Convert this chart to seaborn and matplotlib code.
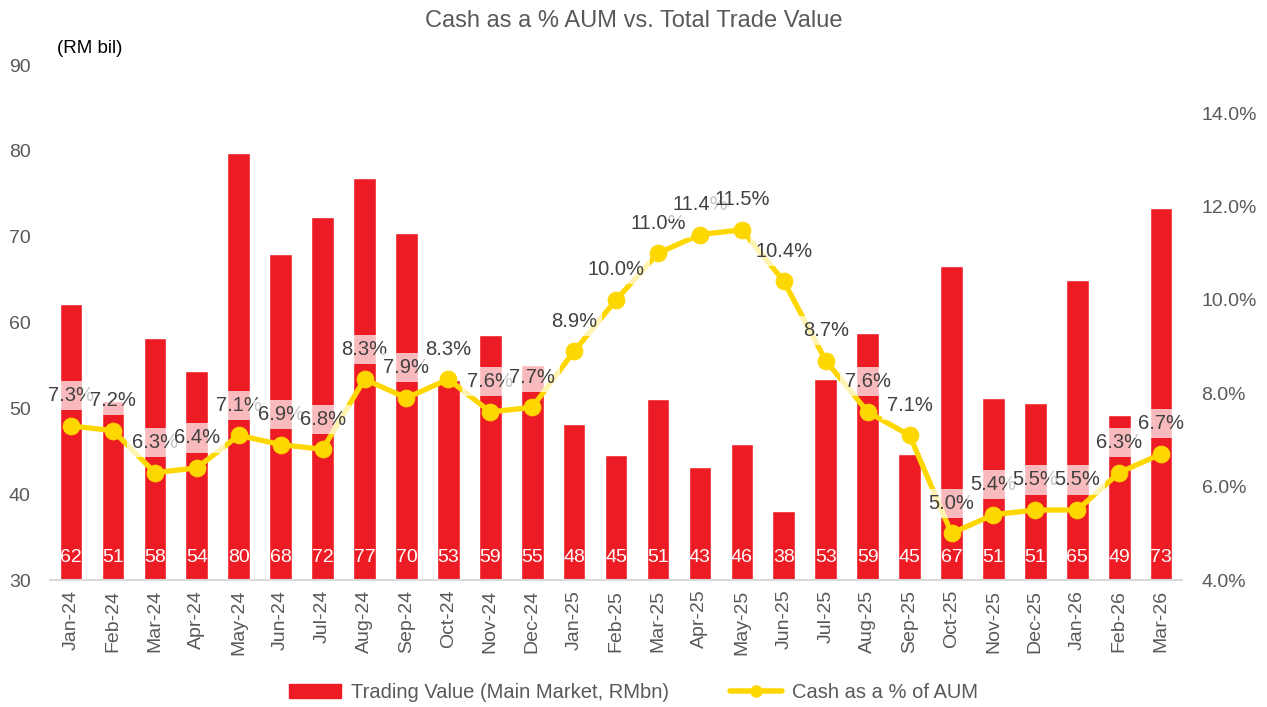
import numpy as np
import pandas as pd
import matplotlib
matplotlib.use("Agg")
import matplotlib.pyplot as plt
import seaborn as sns
from matplotlib.lines import Line2D
from matplotlib.patches import Patch

# Chart data
months = ["Jan-24", "Feb-24", "Mar-24", "Apr-24", "May-24", "Jun-24", "Jul-24", "Aug-24", "Sep-24",
          "Oct-24", "Nov-24", "Dec-24", "Jan-25", "Feb-25", "Mar-25", "Apr-25", "May-25", "Jun-25",
          "Jul-25", "Aug-25", "Sep-25", "Oct-25", "Nov-25", "Dec-25", "Jan-26", "Feb-26", "Mar-26"]
trade_value = [62.2, 50.8, 58.2, 54.3, 79.8, 68.0, 72.3, 76.8, 70.4, 53.3, 58.6, 55.0, 48.2, 44.6,
               51.1, 43.2, 45.9, 38.1, 53.4, 58.8, 44.7, 66.6, 51.2, 50.6, 64.9, 49.2, 73.3]
cash_pct = [7.3, 7.2, 6.3, 6.4, 7.1, 6.9, 6.8, 8.3, 7.9, 8.3, 7.6, 7.7, 8.9, 10.0, 11.0, 11.4, 11.5,
            10.4, 8.7, 7.6, 7.1, 5.0, 5.4, 5.5, 5.5, 6.3, 6.7]

df = pd.DataFrame({"month": months, "trade": trade_value, "cash": cash_pct})
df["pos"] = np.arange(len(df))

RED = "#ED1C24"
YELLOW = "#FFD700"
GREY = "#595959"

sns.set_style("white")
plt.rcParams["font.family"] = ["Liberation Sans", "DejaVu Sans"]

fig = plt.figure(figsize=(12.67, 7.07), dpi=100)
ax = fig.add_axes([0.0395, 0.1796, 0.8935, 0.7284])

sns.barplot(data=df, x="month", y="trade", color=RED, saturation=1, width=0.54, ax=ax)
ax.set_ylim(30, 90)
ax.set_xlim(-0.5, len(df) - 0.5)
ax.set_yticks(range(30, 91, 10))
ax.set_xlabel("")
ax.set_ylabel("")
ax.tick_params(axis="y", labelsize=14, colors=GREY, length=0, pad=14)
ax.tick_params(axis="x", labelsize=14, colors=GREY, rotation=90, length=0, pad=7)
ax.set_xticks(np.arange(-0.5, len(df), 1), minor=True)
ax.tick_params(axis="x", which="minor", length=6, color="#D9D9D9", width=1.2)
for s in ["top", "left", "right"]:
    ax.spines[s].set_visible(False)
ax.spines["bottom"].set_color("#D9D9D9")
ax.spines["bottom"].set_linewidth(1.5)

# bar value labels at the bottom
for p, v in zip(df["pos"], df["trade"]):
    ax.text(p, 32.6, f"{v:.0f}", ha="center", va="center", color="white", fontsize=14)

ax2 = ax.twinx()
sns.lineplot(data=df, x="pos", y="cash", color=YELLOW, linewidth=3.8, marker="o", markersize=12,
             markeredgecolor=YELLOW, sort=False, ax=ax2)
ax2.set_ylim(4, 15.03)
ax2.set_yticks([4, 6, 8, 10, 12, 14])
ax2.set_yticklabels([f"{t:.1f}%" for t in [4, 6, 8, 10, 12, 14]])
ax2.set_ylabel("")
ax2.set_xlabel("")
ax2.tick_params(axis="y", labelsize=14, colors=GREY, length=0, pad=14)
for s in ["top", "left", "right", "bottom"]:
    ax2.spines[s].set_visible(False)

for p, v in zip(df["pos"], df["cash"]):
    ax2.annotate(f"{v:.1f}%", (p, v), xytext=(0, 30), textcoords="offset pixels",
                 ha="center", va="center", fontsize=14.5, color="#404040",
                 bbox=dict(boxstyle="square,pad=0.25", fc="white", ec="none", alpha=0.7))

fig.text(0.5, 0.97, "Cash as a % AUM vs. Total Trade Value", ha="center", va="center",
         fontsize=17, color=GREY)
fig.text(0.045, 0.932, "(RM bil)", ha="left", va="center", fontsize=13.5, color="black")

handles = [Patch(color=RED),
           Line2D([0], [0], color=YELLOW, linewidth=4, marker="o", markersize=8)]
fig.legend(handles, ["Trading Value (Main Market, RMbn)", "Cash as a % of AUM"],
           loc="center", bbox_to_anchor=(0.5, 0.021), ncol=2, frameon=False, fontsize=14.5,
           labelcolor=GREY, handlelength=2.6, columnspacing=3.0, handletextpad=0.5)

fig.savefig("out.png", dpi=100)
